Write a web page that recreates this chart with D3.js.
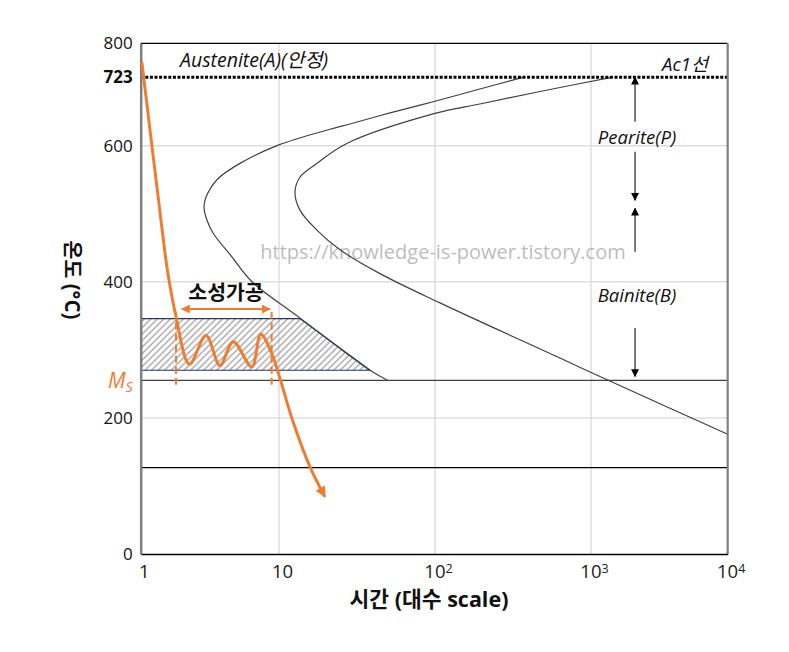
<!DOCTYPE html>
<html>
<head>
<meta charset="utf-8">
<script src="https://cdn.jsdelivr.net/npm/d3@7"></script>
<style>
  body { margin: 0; background: #fff; }
  text { font-family: "Open Sans", "Noto Sans CJK KR", sans-serif; }
</style>
</head>
<body>
<div id="chart"></div>
<script>
// axis values
const xTicks = [1, 10, 100, 1000, 10000];
const yTicks = [0, 200, 400, 600, 800];
const xGrid = [10, 100, 1000];
const yGrid = [200, 400, 600];

// special temperatures
const ac1Temp = 723;
const msTemp = 255;
const lowTemp = 127;

// TTT curves [time, temp]
const startCurve = [
  [367, 723], [194, 702], [100, 680], [51.5, 659], [28.5, 639], [21.2, 629.5],
  [9.88, 601], [5.22, 574], [3.6, 551], [3.05, 530], [2.87, 510], [3.02, 490],
  [3.35, 471], [4.55, 437], [6.38, 400], [13.6, 347], [38.3, 270], [50, 255]
];
const finishCurve = [
  [1417, 723], [471, 697.5], [194, 675], [100, 658], [27.2, 604],
  [17.5, 574], [13.65, 554], [12.66, 532], [13.65, 505], [17.5, 476], [24.6, 447],
  [44.4, 412], [107.6, 369], [632, 288], [1312, 256], [10000, 176]
];

// cooling path (ausforming)
const coolingPath = [
  [1.02, 757], [1.42, 481], [1.56, 417], [1.8, 349], [2.25, 279], [2.97, 321],
  [3.74, 277], [4.67, 312], [6.35, 275], [7.38, 323], [8.85, 295], [10.2, 256],
  [12.4, 192], [15.8, 128], [19.7, 84]
];

// hatched plastic-working zone
const plasticZone = [[1, 346], [13.6, 346], [38.3, 270], [1, 270]];
const plasticMarks = [1.8, 8.85];      // dashed verticals
const plasticMarkRange = [243, 356];
const plasticSpan = [1.98, 8.61];      // double arrow
const plasticSpanTemp = 360;

// phase arrows on the right [from, to] at time phaseArrowTime
const phaseArrowTime = 2100;
const phaseArrows = [[643, 723], [591, 520], [444, 508], [332, 261]];

const W = 789, H = 652;
const svg = d3.select('#chart').append('svg')
  .attr('width', W).attr('height', H);

const x = d3.scaleLog()
  .domain(xTicks)
  .range([140.7, 279, 435, 591, 727.7]);
const y = d3.scaleLinear()
  .domain([0, 600, 723, 800])
  .range([554, 145.7, 77.3, 43.3]);

const defs = svg.append('defs');
const hatch = defs.append('pattern')
  .attr('id', 'hatch')
  .attr('patternUnits', 'userSpaceOnUse')
  .attr('width', 4.6).attr('height', 4.6)
  .attr('patternTransform', 'rotate(45)');
hatch.append('line')
  .attr('x1', 1).attr('y1', 0).attr('x2', 1).attr('y2', 4.6)
  .attr('stroke', '#a6a6a6').attr('stroke-width', 1.4);

function marker(id, color, size) {
  defs.append('marker')
    .attr('id', id)
    .attr('viewBox', '0 0 10 10')
    .attr('refX', 9).attr('refY', 5)
    .attr('markerUnits', 'userSpaceOnUse')
    .attr('markerWidth', size).attr('markerHeight', size)
    .attr('orient', 'auto-start-reverse')
    .append('path')
    .attr('d', 'M0,0 L10,5 L0,10 z')
    .attr('fill', color);
}
marker('arrowOrange', '#ED7D31', 11);
marker('arrowSmallOrange', '#ED7D31', 9);
marker('arrowGray', '#000', 8);

const x0 = x(1), x1 = x(10000);
const yTop = y(800), yBot = y(0);

// grid
svg.append('g').selectAll('line')
  .data(xGrid).enter().append('line')
  .attr('x1', d => x(d)).attr('x2', d => x(d))
  .attr('y1', yTop).attr('y2', yBot)
  .attr('stroke', '#dedede').attr('stroke-width', 1.5);
svg.append('g').selectAll('line')
  .data(yGrid).enter().append('line')
  .attr('x1', x0).attr('x2', x1)
  .attr('y1', d => y(d)).attr('y2', d => y(d))
  .attr('stroke', '#dedede').attr('stroke-width', 1.5);

// watermark
svg.append('text')
  .attr('x', 443).attr('y', 259)
  .attr('text-anchor', 'middle')
  .attr('font-size', 20)
  .attr('fill', '#bdbdbd')
  .text('https://knowledge-is-power.tistory.com');

// hatched zone
svg.append('path')
  .attr('d', d3.line().x(d => x(d[0])).y(d => y(d[1]))(plasticZone) + 'Z')
  .attr('fill', 'url(#hatch)')
  .attr('stroke', '#1f3864').attr('stroke-width', 1.2);

// horizontal reference lines
svg.append('line')
  .attr('x1', x0).attr('x2', x1).attr('y1', y(msTemp)).attr('y2', y(msTemp))
  .attr('stroke', '#404040').attr('stroke-width', 1.2);
svg.append('line')
  .attr('x1', x0).attr('x2', x1).attr('y1', y(lowTemp)).attr('y2', y(lowTemp))
  .attr('stroke', '#000').attr('stroke-width', 1.2);

// TTT curves
const smooth = d3.line().x(d => x(d[0])).y(d => y(d[1])).curve(d3.curveCatmullRom.alpha(0.5));
[startCurve, finishCurve].forEach(c => {
  svg.append('path')
    .attr('d', smooth(c))
    .attr('fill', 'none')
    .attr('stroke', '#404040').attr('stroke-width', 1.2);
});

// Ac1 dotted line
svg.append('line')
  .attr('x1', x0).attr('x2', x1).attr('y1', y(ac1Temp)).attr('y2', y(ac1Temp))
  .attr('stroke', '#000').attr('stroke-width', 3)
  .attr('stroke-dasharray', '3,1.6');

// borders
svg.append('line').attr('x1', x0).attr('x2', x1).attr('y1', yTop).attr('y2', yTop)
  .attr('stroke', '#000').attr('stroke-width', 1.2);
svg.append('line').attr('x1', x1).attr('x2', x1).attr('y1', yTop).attr('y2', yBot)
  .attr('stroke', '#7f7f7f').attr('stroke-width', 2.2);

// x axis
const xAxis = svg.append('g')
  .attr('transform', `translate(0,${yBot})`)
  .call(d3.axisBottom(x).tickValues(xTicks).tickSize(0).tickPadding(11).tickFormat(''));
xAxis.select('.domain').attr('stroke', '#000').attr('stroke-width', 1.6);
xAxis.selectAll('.tick text')
  .attr('font-family', '"Liberation Serif", serif')
  .attr('font-size', 18.5)
  .attr('fill', '#222')
  .attr('dx', 3)
  .each(function(d) {
    const t = d3.select(this);
    const p = Math.round(Math.log10(d));
    if (p < 2) { t.text(d); return; }
    t.append('tspan').text('10');
    t.append('tspan').attr('dy', '-0.45em').attr('font-size', 12.5).text(p);
  });

// y axis
const yAxis = svg.append('g')
  .attr('transform', `translate(${x0},0)`)
  .call(d3.axisLeft(y).tickValues(yTicks.concat([ac1Temp])).tickSize(0).tickPadding(8));
yAxis.select('.domain').attr('stroke', '#7f7f7f').attr('stroke-width', 2.5);
yAxis.selectAll('.tick text')
  .attr('font-family', '"Open Sans", sans-serif')
  .attr('font-size', 17)
  .attr('fill', '#111')
  .attr('font-weight', d => d === ac1Temp ? 'bold' : 'normal');

// cooling path
svg.append('path')
  .attr('d', smooth(coolingPath))
  .attr('fill', 'none')
  .attr('stroke', '#ED7D31').attr('stroke-width', 3)
  .attr('marker-end', 'url(#arrowOrange)');

// dashed verticals + span arrow
svg.append('g').selectAll('line')
  .data(plasticMarks).enter().append('line')
  .attr('x1', d => x(d)).attr('x2', d => x(d))
  .attr('y1', y(plasticMarkRange[1])).attr('y2', y(plasticMarkRange[0]))
  .attr('stroke', '#ED7D31').attr('stroke-width', 2)
  .attr('stroke-dasharray', '7,4');
svg.append('line')
  .attr('x1', x(plasticSpan[0])).attr('x2', x(plasticSpan[1]))
  .attr('y1', y(plasticSpanTemp)).attr('y2', y(plasticSpanTemp))
  .attr('stroke', '#ED7D31').attr('stroke-width', 2)
  .attr('marker-start', 'url(#arrowSmallOrange)')
  .attr('marker-end', 'url(#arrowSmallOrange)');
svg.append('text')
  .attr('x', 226).attr('y', 300)
  .attr('text-anchor', 'middle')
  .attr('font-size', 20.5).attr('font-weight', 'bold')
  .attr('fill', '#111')
  .text('소성가공');

// phase arrows
svg.append('g').selectAll('line')
  .data(phaseArrows).enter().append('line')
  .attr('x1', x(phaseArrowTime)).attr('x2', x(phaseArrowTime))
  .attr('y1', d => y(d[0])).attr('y2', d => y(d[1]))
  .attr('stroke', '#595959').attr('stroke-width', 1.6)
  .attr('marker-end', 'url(#arrowGray)');

// labels
const italic = (tx, ty, s, anchor) => svg.append('text')
  .attr('x', tx).attr('y', ty)
  .attr('text-anchor', anchor || 'start')
  .attr('font-size', 18.5).attr('font-style', 'italic')
  .attr('fill', '#111')
  .text(s);
italic(180, 67, 'Austenite(A)(안정)').attr('font-size', 19.5);
italic(708, 71, 'Ac1선', 'end');
italic(637, 144, 'Pearite(P)', 'middle');
italic(637, 302, 'Bainite(B)', 'middle');

// Ms label
const ms = svg.append('text')
  .attr('x', 108).attr('y', 388)
  .attr('font-family', '"Liberation Serif", serif')
  .attr('font-style', 'italic')
  .attr('font-size', 21)
  .attr('fill', '#ED7D31');
ms.append('tspan').text('M');
ms.append('tspan').attr('dy', 4).attr('font-size', 14.5).text('S');

// axis titles
svg.append('text')
  .attr('x', 429).attr('y', 607)
  .attr('text-anchor', 'middle')
  .attr('font-size', 21.5).attr('font-weight', 'bold')
  .attr('fill', '#111')
  .text('시간 (대수 scale)');
svg.append('text')
  .attr('transform', 'translate(65,280) rotate(90)')
  .attr('text-anchor', 'middle')
  .attr('font-size', 20.5).attr('font-weight', 'bold')
  .attr('fill', '#111')
  .text('온도 (°C)');
</script>
</body>
</html>
